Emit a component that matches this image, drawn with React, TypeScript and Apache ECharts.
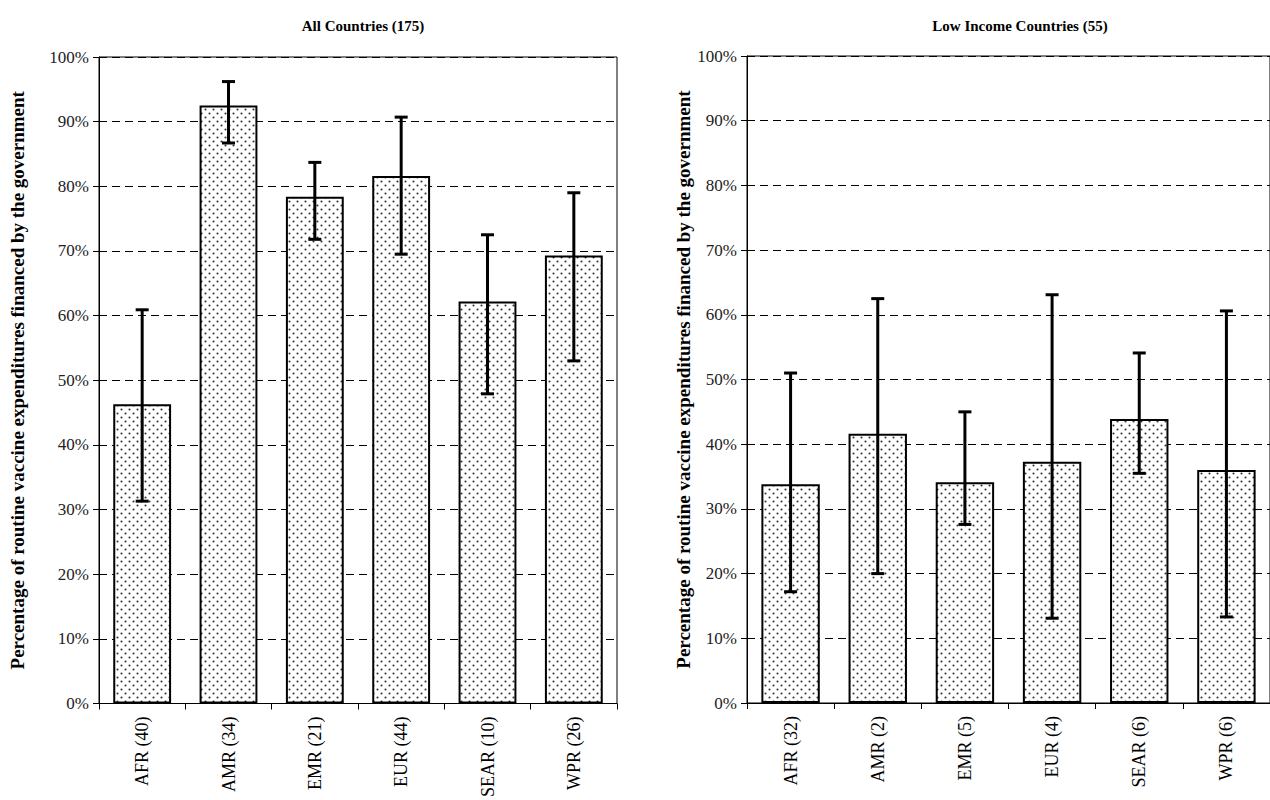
import React, { useEffect, useRef } from "react";
import * as echarts from "echarts";

const categoriesAll = ["AFR (40)", "AMR (34)", "EMR (21)", "EUR (44)", "SEAR (10)", "WPR (26)"];
const valuesAll = [46.3, 92.5, 78.4, 81.6, 62.2, 69.3];
const lowAll = [31.3, 86.7, 71.8, 69.5, 47.9, 53.0];
const highAll = [60.9, 96.2, 83.7, 90.7, 72.5, 79.0];

const categoriesLow = ["AFR (32)", "AMR (2)", "EMR (5)", "EUR (4)", "SEAR (6)", "WPR (6)"];
const valuesLow = [33.8, 41.6, 34.1, 37.3, 43.9, 36.0];
const lowLow = [17.2, 20.0, 27.6, 13.1, 35.5, 13.3];
const highLow = [51.0, 62.5, 45.0, 63.1, 54.1, 60.6];

const titles = ["All Countries (175)", "Low Income Countries (55)"];
const yAxisName = "Percentage of routine vaccine expenditures financed by the government";

const FONT = "'Liberation Serif', 'DejaVu Serif', serif";

function makePattern(): HTMLCanvasElement {
  const c = document.createElement("canvas");
  c.width = 8;
  c.height = 8;
  const ctx = c.getContext("2d")!;
  ctx.fillStyle = "#ffffff";
  ctx.fillRect(0, 0, 8, 8);
  ctx.fillStyle = "#333333";
  const dots = [
    [1.5, 1.5],
    [5.5, 5.5],
  ];
  for (const [x, y] of dots) {
    ctx.beginPath();
    ctx.arc(x, y, 1.05, 0, Math.PI * 2);
    ctx.fill();
  }
  return c;
}

export default function App() {
  const ref = useRef<HTMLDivElement>(null);

  useEffect(() => {
    if (!ref.current) return;
    const chart = echarts.init(ref.current, undefined, { renderer: "svg" });
    const pattern = makePattern();

    const errData = (low: number[], high: number[]) => low.map((l, i) => [i, l, high[i]]);

    const renderErr = (params: any, api: any) => {
      const x = api.value(0);
      const lo = api.coord([x, api.value(1)]);
      const hi = api.coord([x, api.value(2)]);
      const cap = 6.5;
      const style = { stroke: "#000", lineWidth: 3 };
      return {
        type: "group",
        children: [
          { type: "line", shape: { x1: lo[0], y1: lo[1], x2: hi[0], y2: hi[1] }, style },
          { type: "line", shape: { x1: lo[0] - cap, y1: lo[1], x2: lo[0] + cap, y2: lo[1] }, style },
          { type: "line", shape: { x1: hi[0] - cap, y1: hi[1], x2: hi[0] + cap, y2: hi[1] }, style },
        ],
      };
    };

    const xAxisCommon = {
      type: "category",
      axisLine: { lineStyle: { color: "#000", width: 1 } },
      axisTick: { show: true, length: 6, lineStyle: { color: "#000" } },
      axisLabel: { rotate: 90, fontFamily: FONT, fontSize: 18, color: "#000", margin: 13 },
    };
    const yAxisCommon = {
      type: "value",
      min: 0,
      max: 100,
      interval: 10,
      axisLine: { show: true, lineStyle: { color: "#000", width: 1 } },
      axisTick: { show: true, length: 6, lineStyle: { color: "#000" } },
      axisLabel: { formatter: "{value}%", fontFamily: FONT, fontSize: 17, color: "#222", margin: 10 },
      splitLine: { show: true, lineStyle: { color: "#000", type: [8, 5], width: 1 } },
      name: yAxisName,
      nameLocation: "middle",
      nameRotate: 90,
      nameTextStyle: { fontFamily: FONT, fontSize: 19, fontWeight: "bold", color: "#000" },
    };

    const barStyle = {
      color: { image: pattern, repeat: "repeat" },
      borderColor: "#000",
      borderWidth: 2,
    };

    chart.setOption({
      animation: false,
      backgroundColor: "#fff",
      title: [
        {
          text: titles[0],
          left: 358,
          top: 13,
          textAlign: "center",
          textStyle: { fontFamily: FONT, fontSize: 15, fontWeight: "bold", color: "#000" },
        },
        {
          text: titles[1],
          left: 1015,
          top: 13,
          textAlign: "center",
          textStyle: { fontFamily: FONT, fontSize: 15, fontWeight: "bold", color: "#000" },
        },
      ],
      grid: [
        { left: 99, top: 57, width: 518, height: 648, show: true, borderColor: "#000", borderWidth: 1 },
        { left: 747, top: 56, width: 535, height: 647, show: true, borderColor: "#000", borderWidth: 1 },
      ],
      xAxis: [
        { ...xAxisCommon, gridIndex: 0, data: categoriesAll },
        { ...xAxisCommon, gridIndex: 1, data: categoriesLow },
      ],
      yAxis: [
        { ...yAxisCommon, gridIndex: 0, nameGap: 72 },
        { ...yAxisCommon, gridIndex: 1, nameGap: 47 },
      ],
      series: [
        {
          type: "bar",
          xAxisIndex: 0,
          yAxisIndex: 0,
          data: valuesAll,
          barCategoryGap: "33%",
          itemStyle: barStyle,
        },
        {
          type: "bar",
          xAxisIndex: 1,
          yAxisIndex: 1,
          data: valuesLow,
          barCategoryGap: "33%",
          itemStyle: barStyle,
        },
        {
          type: "custom",
          xAxisIndex: 0,
          yAxisIndex: 0,
          data: errData(lowAll, highAll),
          renderItem: renderErr,
          encode: { x: 0, y: [1, 2] },
          z: 5,
        },
        {
          type: "custom",
          xAxisIndex: 1,
          yAxisIndex: 1,
          data: errData(lowLow, highLow),
          renderItem: renderErr,
          encode: { x: 0, y: [1, 2] },
          z: 5,
        },
      ],
    });

    return () => chart.dispose();
  }, []);

  return (
    <div
      ref={ref}
      style={{ position: "fixed", left: 0, top: 0, width: 1270, height: 800 }}
    />
  );
}
